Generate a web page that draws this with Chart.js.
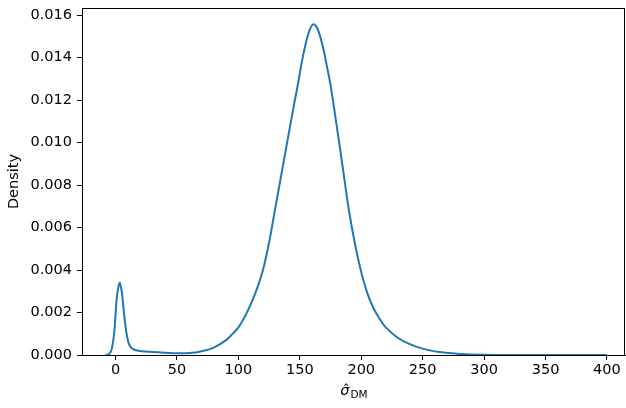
<!DOCTYPE html>
<html>
<head>
<meta charset="utf-8">
<script src="https://cdn.jsdelivr.net/npm/chart.js@4.4.1/dist/chart.umd.min.js"></script>
<style>
  html, body { margin: 0; padding: 0; background: #fff; }
  #wrap { width: 626px; height: 408px; position: relative; }
</style>
</head>
<body>
<div id="wrap"><canvas id="kde"></canvas></div>
<script>
// ===== Data =====
const xValues = [
    -8, -5, -3, -1, 0, 1, 2, 3, 3.5, 4, 5, 6, 7, 8, 9, 10, 12, 15, 20, 25,
    30, 40, 50, 60, 70, 80, 90, 95, 100, 105, 110, 115, 120, 125, 130, 135, 140,
    145, 148, 152, 155, 158, 161, 164, 167, 170, 172, 175, 180, 185, 190, 195,
    200, 205, 210, 215, 220, 230, 240, 250, 260, 270, 280, 300, 320, 350, 400
];
const densityValues = [
    0, 0.00005, 0.0003, 0.0011, 0.0019, 0.0027, 0.0031, 0.00335, 0.0034, 0.0033,
    0.003, 0.0025, 0.0019, 0.0014, 0.001, 0.0007, 0.0004, 0.00026, 0.00019, 0.00016,
    0.00014, 0.00011, 0.00008, 0.00009, 0.00018, 0.00035, 0.0007, 0.00098, 0.0013,
    0.00178, 0.00238, 0.0031, 0.0040, 0.0053, 0.0069, 0.0085, 0.0101,
    0.0117, 0.0126, 0.0139, 0.0147, 0.0153, 0.01556, 0.0154, 0.0149, 0.0142, 0.0136,
    0.0127, 0.0108, 0.0088, 0.0068, 0.0052,
    0.0039, 0.0029, 0.0022, 0.0017, 0.0013, 0.0008, 0.0005, 0.0003, 0.00017, 0.0001,
    0.00005, 0.00001, 0, 0, 0
];
const xTicks = [0, 50, 100, 150, 200, 250, 300, 350, 400];
const yTicks = [0, 0.002, 0.004, 0.006, 0.008, 0.01, 0.012, 0.014, 0.016];

const FONT = "'DejaVu Sans', sans-serif";

// ===== Frame + axis labels =====
const framePlugin = {
    id: "frame",
    afterDraw(chart) {
        const { ctx, chartArea: a } = chart;
        ctx.save();
        ctx.strokeStyle = "#000";
        ctx.lineWidth = 1;
        ctx.strokeRect(a.left + 0.5, a.top + 0.5, a.right - a.left - 1, a.bottom - a.top);

        // y label
        ctx.fillStyle = "#000";
        ctx.font = `14.5px ${FONT}`;
        ctx.textAlign = "center";
        ctx.textBaseline = "middle";
        ctx.translate(14, (a.top + a.bottom) / 2);
        ctx.rotate(-Math.PI / 2);
        ctx.fillText("Density", 0, 0);
        ctx.restore();

        // x label: sigma-hat with DM subscript
        ctx.save();
        ctx.fillStyle = "#000";
        ctx.textBaseline = "alphabetic";
        ctx.textAlign = "left";
        const cx = (a.left + a.right) / 2;
        ctx.font = `italic 14.5px ${FONT}`;
        const main = "σ̂";
        const wMain = ctx.measureText("σ").width;
        ctx.font = `10.5px ${FONT}`;
        const wSub = ctx.measureText("DM").width;
        const x0 = cx - (wMain + wSub) / 2;
        ctx.font = `italic 14.5px ${FONT}`;
        ctx.fillText(main, x0, 395);
        ctx.font = `10.5px ${FONT}`;
        ctx.fillText("DM", x0 + wMain + 1, 398);
        ctx.restore();
    }
};

const ctx = document.getElementById("kde").getContext("2d");
new Chart(ctx, {
    type: "line",
    data: {
        datasets: [{
            data: xValues.map((x, i) => ({ x, y: densityValues[i] })),
            borderColor: "#1f77b4",
            borderWidth: 2,
            pointRadius: 0,
            fill: false,
            tension: 0.4
        }]
    },
    options: {
        responsive: true,
        maintainAspectRatio: false,
        animation: false,
        layout: { padding: { top: 8, right: 1, left: 0, bottom: 0 } },
        plugins: { legend: { display: false }, tooltip: { enabled: false } },
        scales: {
            x: {
                type: "linear",
                min: -27.3,
                max: 414.7,
                afterFit: s => { s.height = 53; s.paddingLeft = 0; s.paddingRight = 0; },
                afterBuildTicks: s => { s.ticks = xTicks.map(v => ({ value: v })); },
                grid: { display: true, drawOnChartArea: false, tickLength: 5, color: "#000" },
                border: { display: true, color: "#000", width: 1 },
                ticks: {
                    color: "#000",
                    font: { family: FONT, size: 14.5 },
                    padding: 2,
                    maxRotation: 0
                }
            },
            y: {
                type: "linear",
                min: 0,
                max: 0.01633,
                afterFit: s => { s.width = 82; s.paddingTop = 0; s.paddingBottom = 0; },
                afterBuildTicks: s => { s.ticks = yTicks.map(v => ({ value: v })); },
                grid: { display: true, drawOnChartArea: false, tickLength: 5, color: "#000" },
                border: { display: true, color: "#000", width: 1 },
                ticks: {
                    color: "#000",
                    font: { family: FONT, size: 14.5 },
                    padding: 5,
                    callback: v => v.toFixed(3)
                }
            }
        }
    },
    plugins: [framePlugin]
});
</script>
</body>
</html>
